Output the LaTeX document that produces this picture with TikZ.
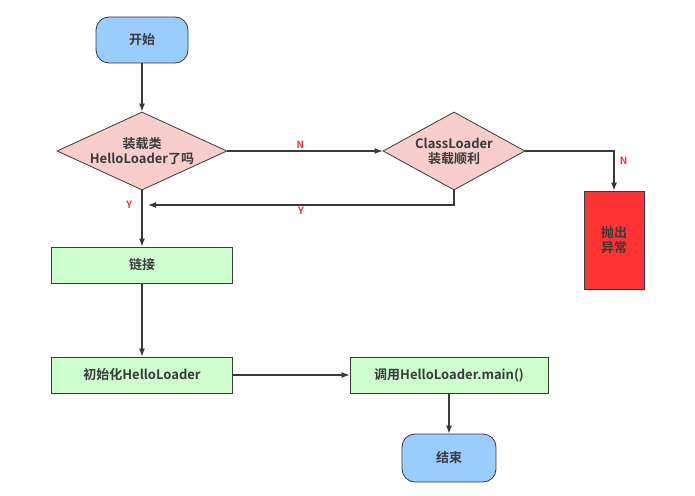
\documentclass[tikz,border=0pt]{standalone}
\usepackage{fontspec}
\setmainfont{Noto Sans CJK SC}[BoldFont={Noto Sans CJK SC Bold}]
\usetikzlibrary{arrows.meta,positioning,shapes.geometric}

\definecolor{termblue}{HTML}{99CCFF}
\definecolor{decpink}{HTML}{F8CECC}
\definecolor{procgreen}{HTML}{CCFFCC}
\definecolor{errred}{HTML}{FF3333}
\definecolor{lblred}{HTML}{E8343A}
\definecolor{edgegray}{HTML}{3A3A3A}

\begin{document}
\begin{tikzpicture}[x=1pt,y=-1pt,>={Latex[length=8pt,width=6pt]},
  every node/.style={font=\fontsize{13}{15}\selectfont\bfseries,text=edgegray},
  term/.style={draw=edgegray,thick,fill=termblue,rounded corners=13pt,minimum width=92pt,minimum height=46pt},
  decision/.style={draw=edgegray,thick,fill=decpink,diamond,aspect=2.2,inner xsep=-12pt,inner ysep=-4pt,align=center},
  proc/.style={draw=edgegray,thick,fill=procgreen,minimum width=181pt,minimum height=36pt},
  flow/.style={->,line width=1.1pt,draw=edgegray},
  yn/.style={text=lblred,font=\fontsize{10}{11}\selectfont\bfseries}]
\useasboundingbox (0,0) rectangle (695,495);

\node[term] (start) at (142,40) {开始};
\node[decision,minimum width=170pt,minimum height=78pt] (loaded) at (142,151) {装载类\\HelloLoader了吗};
\node[decision,minimum width=142pt,minimum height=78pt] (ok) at (454,151) {ClassLoader\\装载顺利};
\node[draw=edgegray,thick,fill=errred,minimum width=60pt,minimum height=98pt,align=center] (err) at (614,240) {抛出\\异常};
\node[proc] (link) at (142,265) {链接};
\node[proc] (init) at (142,375) {初始化HelloLoader};
\node[proc,minimum width=198pt] (call) at (449,375) {调用HelloLoader.main()};
\node[term,minimum width=94pt,minimum height=48pt] (end) at (449,458) {结束};

\coordinate (back) at (142,205);

\draw[flow] (start) -- (loaded);
\draw[flow] (loaded) -- node[yn,pos=0.47,above=-1pt] {N} (ok);
\draw[flow] (ok.east) -| node[yn,pos=0.62,right=2pt] {N} (err.north);
\draw[flow] (ok.south) |- node[yn,pos=0.75,below=-2pt] {Y} ([xshift=6pt]back);
\draw[flow] (loaded) -- node[yn,pos=0.26,left=6pt] {Y} (link);
\draw[flow] (link) -- (init);
\draw[flow] (init) -- (call);
\draw[flow] (call) -- (end);
\end{tikzpicture}
\end{document}
